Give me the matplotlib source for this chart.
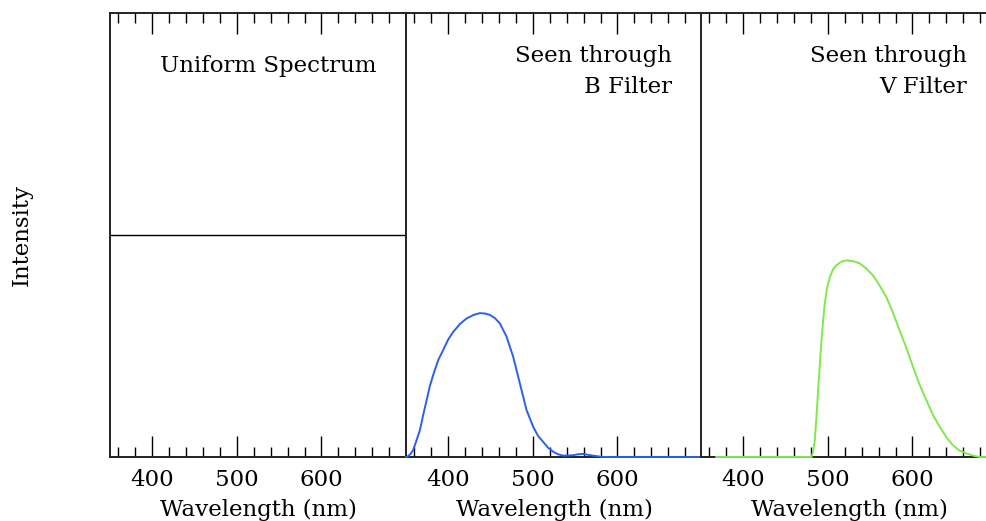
import numpy as np
import matplotlib.pyplot as plt

plt.rcParams['font.family'] = ['DejaVu Serif']

# uniform spectrum
uni_wl = [350, 700]
uni_int = [0.5, 0.5]

# spectrum seen through B filter
b_wl = [350, 351, 355, 358.6, 362, 366.5, 370, 374.4, 378, 382.2, 388, 394, 400, 405.9,
        414, 421.6, 430, 437.4, 444, 449.2, 455, 461, 468.9, 476.7, 484.6, 492.5,
        500.4, 506, 512.2, 518, 524, 530, 535.8, 547.6, 553, 559.4, 565, 571.2, 583, 700]
b_int = [0.0, 0.0, 0.006, 0.016, 0.035, 0.061, 0.092, 0.128, 0.158, 0.185, 0.218, 0.241, 0.265, 0.282,
         0.300, 0.312, 0.320, 0.324, 0.323, 0.320, 0.313, 0.301, 0.271, 0.226, 0.166, 0.106,
         0.068, 0.048, 0.034, 0.021, 0.012, 0.006, 0.003, 0.004, 0.006, 0.007, 0.005, 0.003, 0.0, 0.0]

# spectrum seen through V filter
v_wl = [368, 480.7, 482.5, 484.6, 486.5, 488.5, 490.5, 492.5, 494.5, 496.4, 499, 502.3, 506, 510.2,
        516, 522, 530, 537.7, 545, 553.4, 561, 569.2, 577, 584.9, 593, 600.7, 608, 616.5,
        624, 632.2, 640, 648, 656, 663.7, 672, 679.4, 700]
v_int = [0.0, 0.0, 0.012, 0.038, 0.090, 0.150, 0.208, 0.263, 0.310, 0.346, 0.380, 0.405, 0.422, 0.432,
         0.440, 0.443, 0.441, 0.436, 0.425, 0.409, 0.387, 0.360, 0.325, 0.285, 0.245, 0.203, 0.165, 0.128,
         0.096, 0.068, 0.045, 0.026, 0.014, 0.008, 0.003, 0.0, 0.0]

major_ticks = [400, 500, 600]
minor_ticks = np.arange(360, 700, 20)
fs = 16.5

fig = plt.figure(figsize=(9.86, 5.21), dpi=100)
lefts = [110, 406, 701]
width = 296
axes = []
for i, left in enumerate(lefts):
    ax = fig.add_axes([left / 986, 1 - 457 / 521, width / 986, 444 / 521])
    ax.set_xlim(350, 700)
    ax.set_ylim(0, 1)
    ax.set_xticks(major_ticks)
    ax.set_xticks(minor_ticks, minor=True)
    ax.set_yticks([])
    ax.tick_params(axis='x', which='both', direction='in', top=True, bottom=True,
                   width=1, color='black', labelsize=fs, pad=9)
    ax.tick_params(axis='x', which='major', length=15)
    ax.tick_params(axis='x', which='minor', length=7)
    for s in ax.spines.values():
        s.set_linewidth(1.4)
        s.set_color('#222222')
    ax.set_xlabel('Wavelength (nm)', fontsize=fs, labelpad=5)
    axes.append(ax)

axes[0].plot(uni_wl, uni_int, color='black', lw=1.0, zorder=3)
axes[1].plot(b_wl, b_int, color='#2a5ff0', lw=1.4, zorder=3, clip_on=False)
axes[2].plot(v_wl, v_int, color='#7ee84c', lw=1.4, zorder=3, clip_on=False)

fig.text(22 / 986, 1 - 235 / 521, 'Intensity', rotation=90, ha='center', va='center',
         fontsize=fs)

tx = 1 - 30 / 296
axes[0].text(tx, 1 - 53 / 444, 'Uniform Spectrum', transform=axes[0].transAxes,
             ha='right', va='center', fontsize=fs)
axes[1].text(tx, 1 - 43 / 444, 'Seen through', transform=axes[1].transAxes,
             ha='right', va='center', fontsize=fs)
axes[1].text(tx, 1 - 74 / 444, 'B Filter', transform=axes[1].transAxes,
             ha='right', va='center', fontsize=fs)
axes[2].text(tx, 1 - 43 / 444, 'Seen through', transform=axes[2].transAxes,
             ha='right', va='center', fontsize=fs)
axes[2].text(tx, 1 - 74 / 444, 'V Filter', transform=axes[2].transAxes,
             ha='right', va='center', fontsize=fs)

fig.savefig('out.png', dpi=100)
